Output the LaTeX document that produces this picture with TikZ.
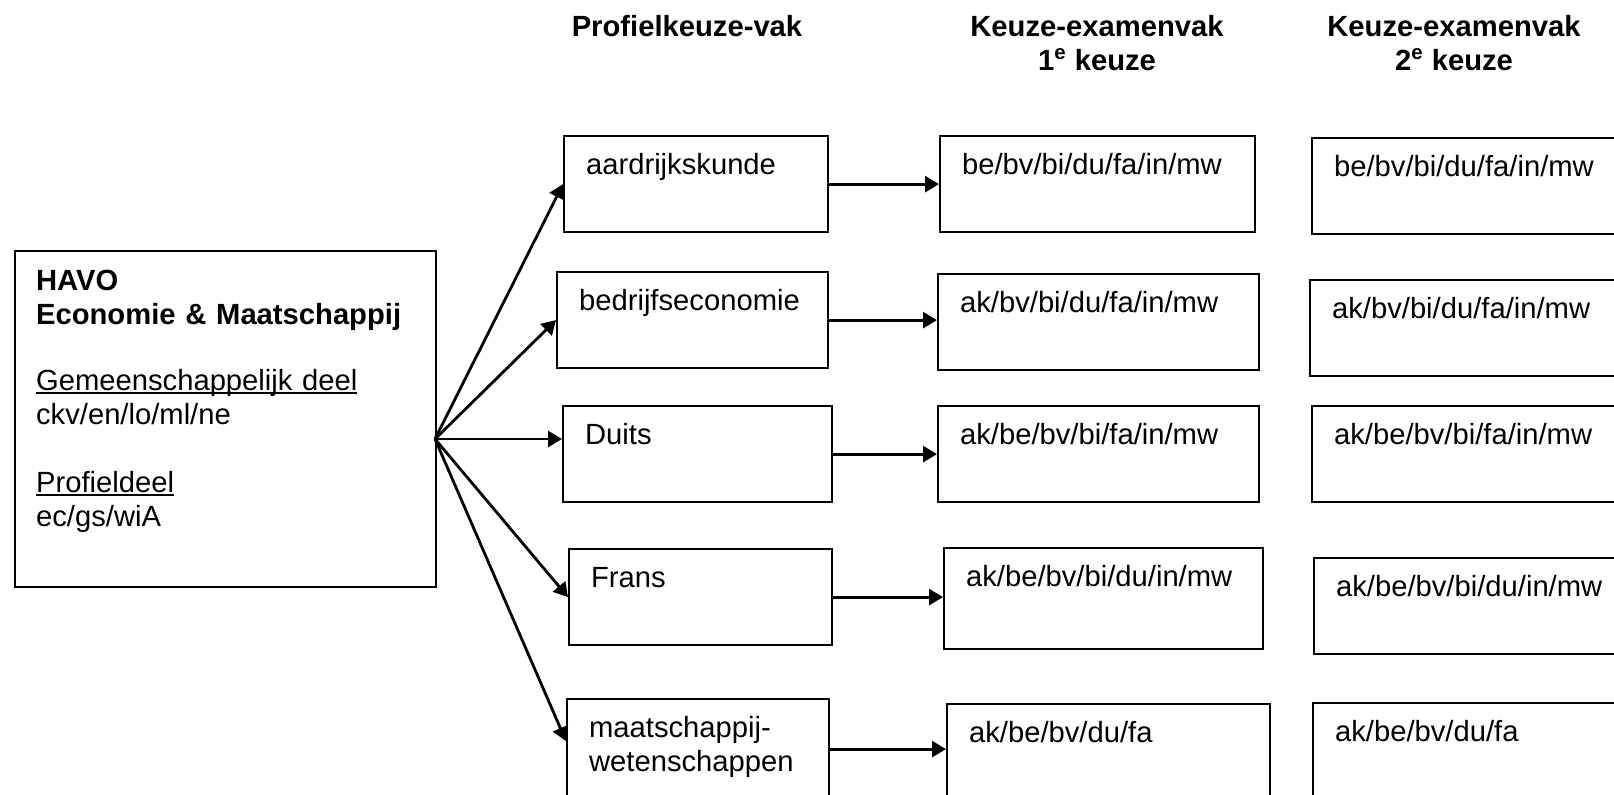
\documentclass[tikz,border=0pt]{standalone}
\usepackage{fontspec}
\setmainfont{Liberation Sans}
\usetikzlibrary{scopes,arrows.meta}

\newcommand\onderstreept[1]{\leavevmode\setbox0\hbox{#1}\rlap{\rule[-2pt]{\wd0}{0.9pt}}\box0}

\begin{document}
\begin{tikzpicture}[
    x=0.5pt,y=-0.5pt,
    font=\fontsize{14.6}{17}\selectfont,
    vak/.style={draw=black,line width=1.1pt,anchor=north west,align=left,
        inner xsep=11pt,inner ysep=8.5pt,text height=10.5pt,text depth=20.5pt,text width=#1},
    laatst/.style={text depth=22.5pt},
    kop/.style={anchor=base,align=center,font=\fontsize{14.6}{17}\selectfont\bfseries},
    pijl/.style={-{Triangle[length=7pt,width=8pt]},line width=1.4pt},
]
    \useasboundingbox (0,0) rectangle (1614,794);
    \clip (0,0) rectangle (1614,794);

    \node[vak=189.5pt,inner xsep=10.5pt,text height=11pt,text depth=140pt] (havo) at (14,250)
        {\textbf{HAVO}\\\textbf{Economie \& Maatschappij}\\[16pt]
         \onderstreept{Gemeenschappelijk deel}\\ckv/en/lo/ml/ne\\[17pt]
         \onderstreept{Profieldeel}\\ec/gs/wiA};

    \node[kop] (kop1) at (687,36) {Profielkeuze-vak};
    \node[kop] (kop2) at (1097,70) {Keuze-examenvak\\1\textsuperscript{e} keuze};
    \node[kop] (kop3) at (1454,70) {Keuze-examenvak\\2\textsuperscript{e} keuze};

    \node[vak=110pt] (ak) at (563,135) {aardrijkskunde};
    \node[vak=113.5pt] (be) at (556,271) {bedrijfseconomie};
    \node[vak=112.5pt] (du) at (562,405) {Duits};
    \node[vak=109.5pt] (fa) at (568,548) {Frans};
    \node[vak=109pt,laatst] (mw) at (566,698) {maatschappij-\\wetenschappen};

    \node[vak=135.5pt] (ak1) at (939,135) {be/bv/bi/du/fa/in/mw};
    \node[vak=138.5pt] (be1) at (937,273) {ak/bv/bi/du/fa/in/mw};
    \node[vak=138.5pt] (du1) at (937,405) {ak/be/bv/bi/fa/in/mw};
    \node[vak=137.5pt,text depth=23pt] (fa1) at (943,547) {ak/be/bv/bi/du/in/mw};
    \node[vak=139.5pt,laatst] (mw1) at (946,703) {ak/be/bv/du/fa};

    \node[vak=153pt] (ak2) at (1311,137) {be/bv/bi/du/fa/in/mw};
    \node[vak=153pt] (be2) at (1309,279) {ak/bv/bi/du/fa/in/mw};
    \node[vak=153pt] (du2) at (1311,405) {ak/be/bv/bi/fa/in/mw};
    \node[vak=153pt] (fa2) at (1313,557) {ak/be/bv/bi/du/in/mw};
    \node[vak=153pt,laatst] (mw2) at (1312,702) {ak/be/bv/du/fa};

    \coordinate (waaier) at (435,439);
    {[pijl]
        \draw (waaier) -- (ak.west);
        \draw (waaier) -- (be.west);
        \draw (waaier) -- (waaier -| du.west);
        \draw (waaier) -- (fa.west);
        \draw (waaier) -- ([yshift=4pt]mw.west);
        \foreach \v in {ak,be,du,fa,mw}
            \draw (\v.east) -- (\v.east -| \v1.west);
    }
\end{tikzpicture}
\end{document}
